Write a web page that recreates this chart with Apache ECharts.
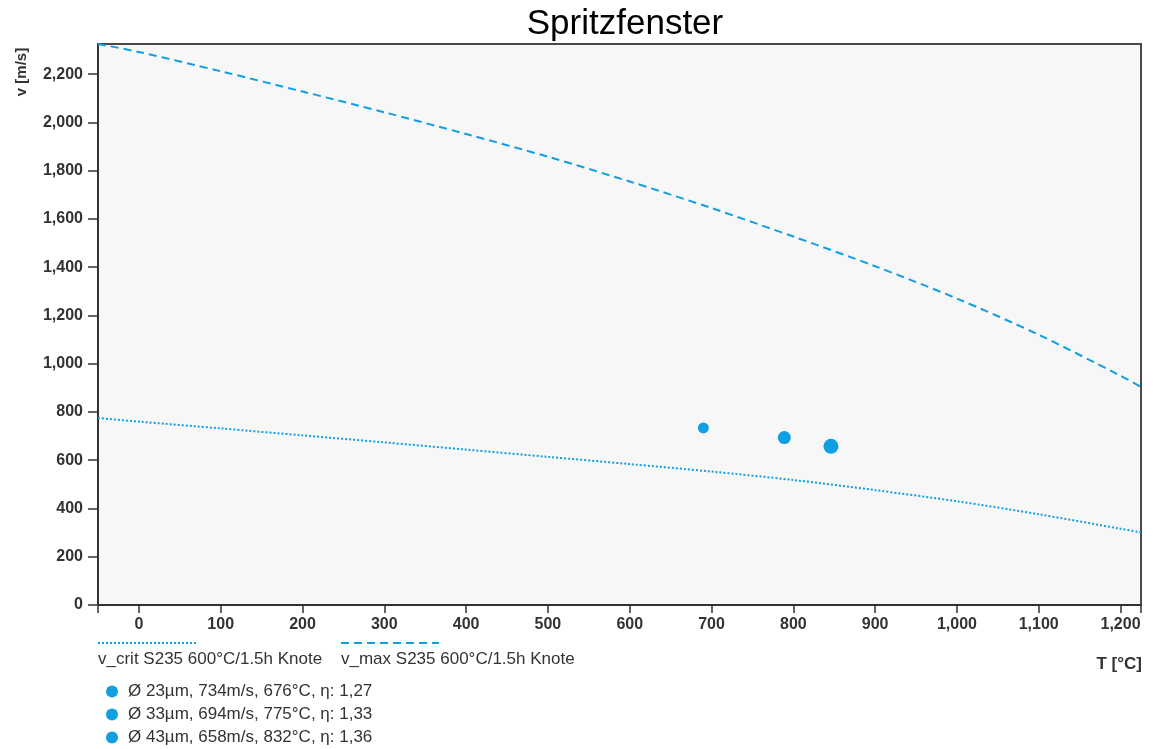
<!DOCTYPE html>
<html>
<head>
<meta charset="utf-8">
<script src="https://cdn.jsdelivr.net/npm/echarts@6/dist/echarts.min.js"></script>
<style>
  html, body { margin: 0; padding: 0; background: #ffffff; }
  #chart { width: 1153px; height: 749px; }
</style>
</head>
<body>
<div id="chart"></div>
<script>
// ---- Data ----
const curveTemps = [-50, 0, 100, 200, 300, 400, 500, 600, 700, 800, 900, 1000, 1100, 1200, 1225];
const vCrit = [775, 760, 732, 703, 674, 644, 614, 584, 553, 518, 476, 430, 376, 316, 301];
const vMax = [2325, 2292, 2212, 2128, 2042, 1952, 1858, 1755, 1645, 1527, 1404, 1270, 1120, 950, 904];

const pointNames = [
  'Ø 23µm, 734m/s, 676°C, η: 1,27',
  'Ø 33µm, 694m/s, 775°C, η: 1,33',
  'Ø 43µm, 658m/s, 832°C, η: 1,36'
];
const pointT = [690, 789, 846];
const pointV = [734, 694, 658];
const pointSize = [11, 13, 15];

const lineNames = ['v_crit S235 600°C/1.5h Knote', 'v_max S235 600°C/1.5h Knote'];
const xLabelValues = [0, 100, 200, 300, 400, 500, 600, 700, 800, 900, 1000, 1100, 1200];
const xTickValues = [-50, 0, 100, 200, 300, 400, 500, 600, 700, 800, 900, 1000, 1100, 1200, 1225];

const titleText = 'Spritzfenster';
const yAxisName = 'v [m/s]';
const xAxisName = 'T [°C]';

// ---- Styles ----
const blue = '#109fe0';
const font = "'Liberation Sans', Arial, sans-serif";
const fmt = v => Number(v).toLocaleString('en-US');

const series = [
  {
    name: lineNames[0], type: 'line', symbol: 'none', showSymbol: false, smooth: 0.3,
    data: curveTemps.map((t, i) => [t, vCrit[i]]),
    lineStyle: { color: blue, width: 2, type: [2, 2] },
    itemStyle: { color: blue }
  },
  {
    name: lineNames[1], type: 'line', symbol: 'none', showSymbol: false, smooth: 0.3,
    data: curveTemps.map((t, i) => [t, vMax[i]]),
    lineStyle: { color: blue, width: 2, type: [8, 5] },
    itemStyle: { color: blue }
  }
];
pointNames.forEach((n, i) => {
  series.push({
    name: n, type: 'scatter', symbol: 'circle', symbolSize: pointSize[i],
    data: [[pointT[i], pointV[i]]],
    itemStyle: { color: blue, opacity: 1 }
  });
});

const chart = echarts.init(document.getElementById('chart'), null, { renderer: 'canvas' });
chart.setOption({
  animation: false,
  backgroundColor: '#ffffff',
  title: {
    text: titleText, left: 620, top: 2, textAlign: 'center',
    textStyle: { fontFamily: font, fontSize: 35, fontWeight: 'normal', color: '#000' }
  },
  grid: {
    left: 98, right: 12, top: 44, bottom: 144,
    show: true, backgroundColor: '#f7f7f7', borderColor: '#4a4a4a', borderWidth: 2
  },
  xAxis: {
    type: 'value', min: -50, max: 1225,
    axisLine: { show: true, onZero: false, lineStyle: { color: '#333', width: 2 } },
    axisTick: { show: true, length: 8, customValues: xTickValues, lineStyle: { color: '#333', width: 1.5 } },
    axisLabel: {
      customValues: xLabelValues, formatter: fmt, margin: 12,
      fontFamily: font, fontSize: 16, fontWeight: 'bold', color: '#333'
    },
    splitLine: { show: false }
  },
  yAxis: {
    type: 'value', min: 0, max: 2325, interval: 200,
    axisLine: { show: true, onZero: false, lineStyle: { color: '#333', width: 2 } },
    axisTick: { show: true, length: 10, lineStyle: { color: '#333', width: 1.5 } },
    axisLabel: {
      formatter: fmt, margin: 15, showMaxLabel: false,
      fontFamily: font, fontSize: 16, fontWeight: 'bold', color: '#333'
    },
    splitLine: { show: false }
  },
  legend: [
    { data: [lineNames[0]], left: 97, top: 637, padding: 0, itemWidth: 98, itemHeight: 12, formatter: () => '',
      selectedMode: false, itemStyle: { opacity: 0 } },
    { data: [lineNames[1]], left: 340, top: 637, padding: 0, itemWidth: 98, itemHeight: 12, formatter: () => '',
      selectedMode: false, itemStyle: { opacity: 0 } },
    { data: [lineNames[0]], left: 92, top: 651, padding: 0, itemWidth: 0, itemHeight: 0, selectedMode: false,
      textStyle: { fontFamily: font, fontSize: 17, color: '#333' } },
    { data: [lineNames[1]], left: 335, top: 651, padding: 0, itemWidth: 0, itemHeight: 0, selectedMode: false,
      textStyle: { fontFamily: font, fontSize: 17, color: '#333' } },
    { data: pointNames, orient: 'vertical', left: 106, top: 683, padding: 0, itemWidth: 12, itemHeight: 12, itemGap: 6,
      icon: 'circle', selectedMode: false,
      textStyle: { fontFamily: font, fontSize: 17, color: '#333', padding: [0, 0, 0, 5] } }
  ],
  graphic: [
    { type: 'text', x: 22, y: 72, rotation: Math.PI / 2,
      style: { text: yAxisName, fontFamily: font, fontSize: 15, fontWeight: 'bold', fill: '#333', align: 'center', verticalAlign: 'middle' } },
    { type: 'text', x: 1142, y: 664,
      style: { text: xAxisName, fontFamily: font, fontSize: 17, fontWeight: 'bold', fill: '#333', align: 'right', verticalAlign: 'middle' } }
  ],
  series: series
});
</script>
</body>
</html>
